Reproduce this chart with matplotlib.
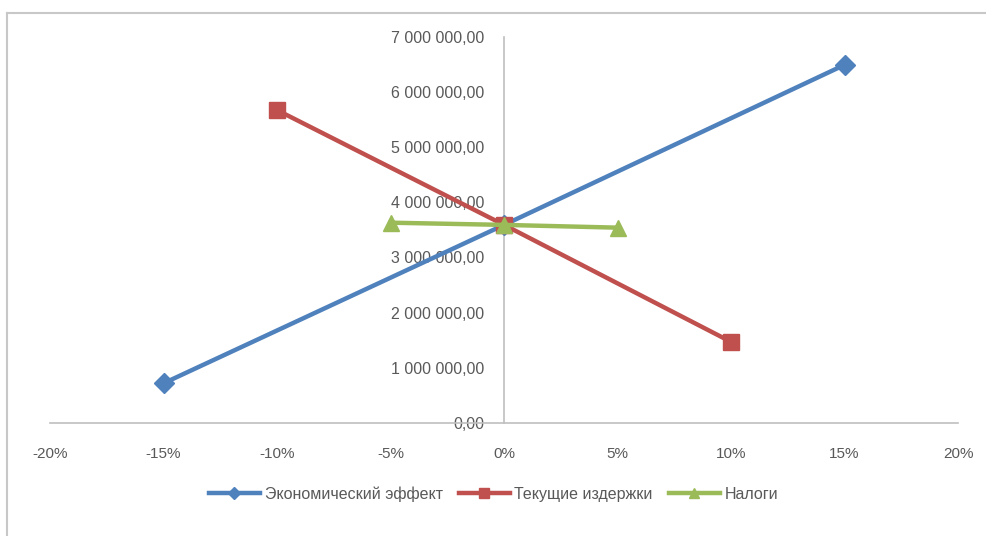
import matplotlib.pyplot as plt
from matplotlib.lines import Line2D
from matplotlib.ticker import FuncFormatter

# Sensitivity of the project indicators to a change of the input parameters
change = [-0.15, 0.0, 0.15]
econ_effect = [720000, 3590000, 6490000]

change_costs = [-0.10, 0.0, 0.10]
current_costs = [5670000, 3590000, 1470000]

change_taxes = [-0.05, 0.0, 0.05]
taxes = [3630000, 3590000, 3540000]

series_names = ['Экономический эффект', 'Текущие издержки', 'Налоги']
x_ticks = [-0.20, -0.15, -0.10, -0.05, 0.0, 0.05, 0.10, 0.15, 0.20]
y_ticks = [0, 1000000, 2000000, 3000000, 4000000, 5000000, 6000000, 7000000]

plt.rcParams['font.family'] = ['Liberation Sans', 'DejaVu Sans']

fig = plt.figure(figsize=(9.87, 5.36), dpi=100)
ax = fig.add_axes([0.0507, 0.2108, 0.92, 0.7207])

ax.plot(change, econ_effect, color='#4F81BD', lw=3.2, marker='D', ms=10,
        label=series_names[0], zorder=3)
ax.plot(change_costs, current_costs, color='#C0504D', lw=3.2, marker='s', ms=11,
        label=series_names[1], zorder=3)
ax.plot(change_taxes, taxes, color='#9BBB59', lw=3.2, marker='^', ms=11,
        label=series_names[2], zorder=3)

ax.set_xlim(-0.20, 0.20)
ax.set_ylim(0, 7000000)
ax.set_xticks(x_ticks)
ax.set_yticks(y_ticks)
ax.xaxis.set_major_formatter(FuncFormatter(lambda v, p: f'{v * 100:.0f}%'))
ax.yaxis.set_major_formatter(
    FuncFormatter(lambda v, p: f'{v:,.2f}'.replace(',', ' ').replace('.', ',')))

# value axis crosses the category axis at 0%
ax.spines['left'].set_position(('data', 0))
ax.spines['right'].set_visible(False)
ax.spines['top'].set_visible(False)
for s in ('left', 'bottom'):
    ax.spines[s].set_color('#BFBFBF')
    ax.spines[s].set_linewidth(1.2)

ax.tick_params(axis='x', length=0, pad=17, labelsize=11, labelcolor='#595959')
ax.tick_params(axis='y', length=0, pad=14, labelsize=11.5, labelcolor='#595959')
ax.set_facecolor('none')

fig.legend(loc='center', bbox_to_anchor=(0.5, 0.078), ncol=3, frameon=False,
           fontsize=11.5, handlelength=3.2, handletextpad=0.3, columnspacing=1.0,
           labelcolor='#595959', markerscale=0.6)

# chart area border
fig.add_artist(Line2D([0.007, 0.007], [0.0, 0.976], color='#C8C8C8', lw=1.5))
fig.add_artist(Line2D([0.007, 1.0], [0.976, 0.976], color='#C8C8C8', lw=1.5))

fig.savefig('out.png', dpi=100)
